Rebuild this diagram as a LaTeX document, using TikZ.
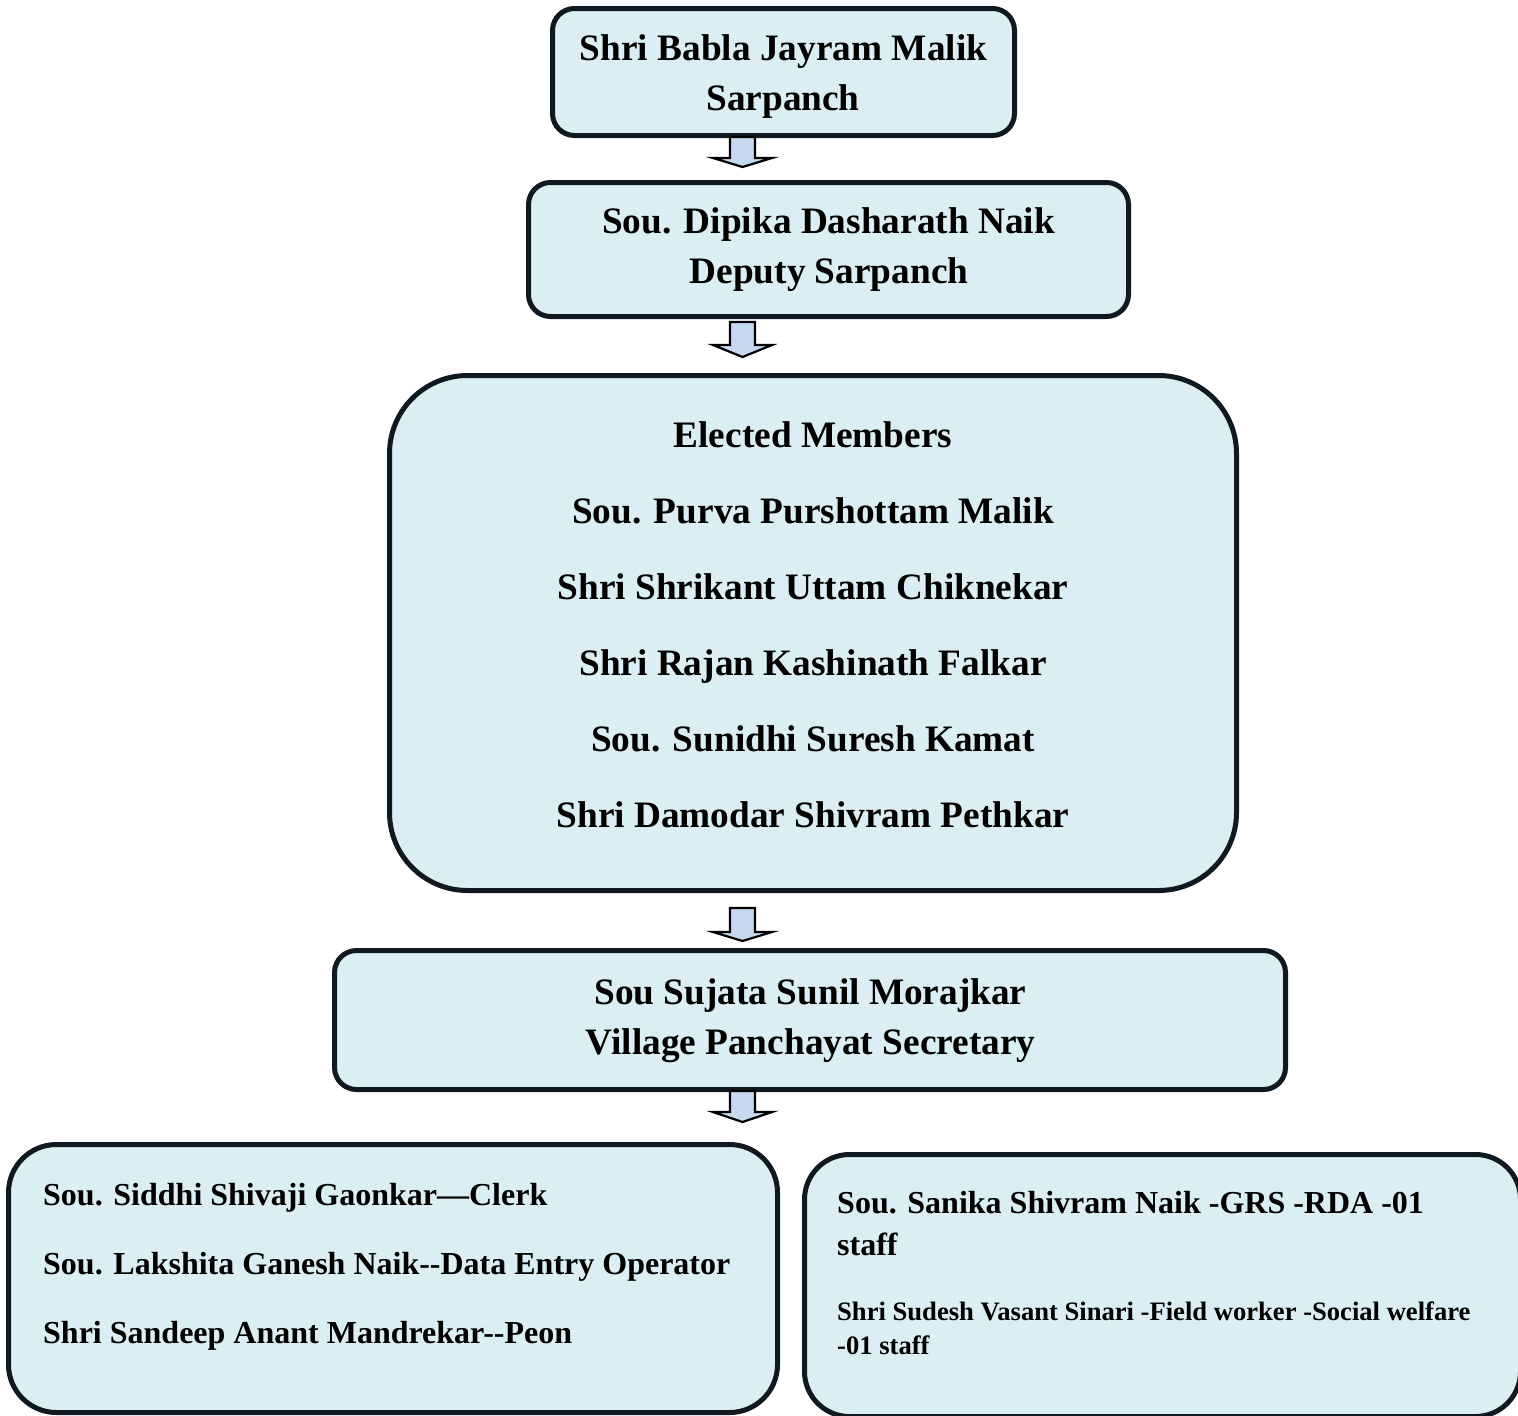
\documentclass[tikz,border=0pt]{standalone}
\usepackage{fontspec}
\setmainfont{Liberation Serif}[Ligatures=TeXOff]
\usetikzlibrary{calc}
\definecolor{boxfill}{HTML}{DAEEF3}
\definecolor{arrfill}{HTML}{C6D9F1}
\definecolor{edge}{HTML}{101921}
\begin{document}
\begin{tikzpicture}[x=1pt,y=-1pt,
  box/.style={draw=edge, fill=boxfill, line width=5pt, inner sep=0pt, outer sep=0pt},
  big/.style={font=\fontsize{37.3}{50}\selectfont\bfseries, anchor=base, inner sep=0pt},
  mid/.style={font=\fontsize{32}{42}\selectfont\bfseries, anchor=base west, inner sep=0pt},
  small/.style={font=\fontsize{26.6}{35}\selectfont\bfseries, anchor=base west, inner sep=0pt},
  blockarrow/.style={draw=black, fill=arrfill, line width=2.2pt, line join=miter}]
\useasboundingbox (0,0) rectangle (1518,1416);

% block arrow: name, shaft top y, head y, tip y
\newcommand{\dnarrow}[4]{%
  \coordinate (#1) at (742.5,#4);
  \draw[blockarrow] (730,#2) -- (755,#2) -- (755,#3) -- (772,#3) -- (#1) -- (713,#3) -- (730,#3) -- cycle;}

% boxes
\node[box, rounded corners=22pt, minimum width=462pt, minimum height=127pt] (b1) at (783.5,72) {};
\node[box, rounded corners=22pt, minimum width=600pt, minimum height=134pt] (b2) at (828.5,249.5) {};
\node[box, rounded corners=78pt, minimum width=847pt, minimum height=515pt] (b3) at (813,633) {};
\node[box, rounded corners=22pt, minimum width=951pt, minimum height=139pt] (b4) at (810,1020) {};
\node[box, rounded corners=48pt, minimum width=769pt, minimum height=268pt] (b5) at (393,1278.5) {};
\node[box, rounded corners=45pt, minimum width=716pt, minimum height=262pt] (b6) at (1162.5,1285.5) {};

% arrows
\dnarrow{a1}{137}{158}{167}
\dnarrow{a2}{322}{345}{357}
\dnarrow{a3}{908}{932}{941}
\dnarrow{a4}{1091}{1112}{1122}

% texts
\node[big] (t11) at (783.5,60) {Shri Babla Jayram Malik};
\node[big] (t12) at (783,110) {Sarpanch};

\node[big] (t21) at (828.5,233) {Sou. Dipika Dasharath Naik};
\node[big] (t22) at (829,283) {Deputy Sarpanch};

\node[big] (t31) at (813,447) {Elected Members};
\node[big] (t32) at (813,523) {Sou. Purva Purshottam Malik};
\node[big] (t33) at (813,599) {Shri Shrikant Uttam Chiknekar};
\node[big] (t34) at (813,675) {Shri Rajan Kashinath Falkar};
\node[big] (t35) at (813,751) {Sou. Sunidhi Suresh Kamat};
\node[big] (t36) at (813,827) {Shri Damodar Shivram Pethkar};

\node[big] (t41) at (810.5,1004) {Sou Sujata Sunil Morajkar};
\node[big] (t42) at (810.5,1054) {Village Panchayat Secretary};

\node[mid] (t51) at (43,1205) {Sou. Siddhi Shivaji Gaonkar—Clerk};
\node[mid] (t52) at (43,1274) {Sou. Lakshita Ganesh Naik--Data Entry Operator};
\node[mid] (t53) at (43,1343) {Shri Sandeep Anant Mandrekar--Peon};

\node[mid] (t61) at (837,1213) {Sou. Sanika Shivram Naik -GRS -RDA -01};
\node[mid] (t62) at (837,1255) {staff};
\node[small] (t63) at (837,1320) {Shri Sudesh Vasant Sinari -Field worker -Social welfare};
\node[small] (t64) at (837,1354) {-01 staff};
\end{tikzpicture}
\end{document}
